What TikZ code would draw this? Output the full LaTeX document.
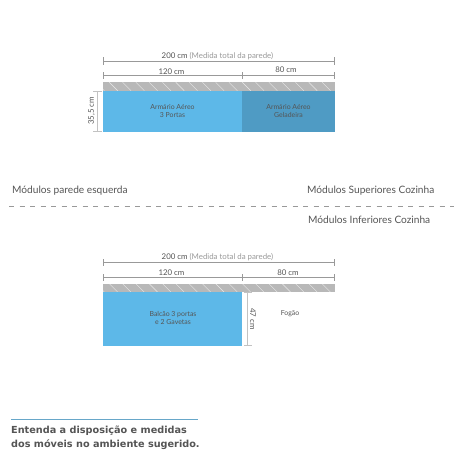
\documentclass[tikz,border=0pt]{standalone}
\usepackage{fontspec}
\setmainfont{Lato}
\newfontfamily\widefont{DejaVu Sans}
\usepackage{tikz}
\definecolor{armblue}{HTML}{5DB8E8}
\definecolor{geldblue}{HTML}{4F9BC4}
\definecolor{wallgrey}{HTML}{B8B8B8}
\definecolor{dimgrey}{HTML}{999999}
\definecolor{txtgrey}{HTML}{555555}
\tikzset{
  dimline/.style={draw=dimgrey,line width=.8pt,|-|,>=|},
  sideline/.style={draw=dimgrey!60,line width=1.1pt,|-|,>=|},
  measure/.style={font=\fontsize{7.85}{8}\selectfont,text=txtgrey,inner sep=0pt},
  boxtext/.style={font=\fontsize{6.9}{8.5}\selectfont,text=txtgrey,inner sep=0pt,align=center},
  heading/.style={font=\fontsize{10.15}{11}\selectfont,text=txtgrey,inner sep=0pt}
}
\begin{document}
\begin{tikzpicture}[x=1pt,y=-1pt]
\useasboundingbox (0,0) rectangle (460,460);
\fill[white] (0,0) rectangle (460,460);
% upper wall
\fill[wallgrey] (102.7,82.3) rectangle (335,90.7);
\begin{scope}
\clip (102.7,82.3) rectangle (335,90.7);
\foreach \x in {96,109.3,...,340}
  \draw[white,opacity=.7,line width=.4pt] (\x,82.3) -- (\x+8.4,90.7);
\end{scope}
\fill[armblue] (102.7,90.7) rectangle (242.3,132);
\fill[geldblue] (242.3,90.7) rectangle (335,132);
\draw[dimline] (102.7,61) -- (335,61);
\draw[dimline] (102.7,75.7) -- (242.3,75.7);
\draw[dimline] (242.3,75.7) -- (335,75.7);
\draw[sideline] (97.3,90.7) -- (97.3,132);
\node[measure] (totalup) at (217.5,56) {200 cm {\color{dimgrey}(Medida total da parede)}};
\node[measure] (leftup) at (171.5,71.5) {120 cm};
\node[measure] (rightup) at (286,70) {80 cm};
\node[measure,rotate=90] (height) at (91.5,111) {35,5 cm};
\node[boxtext] (armario) at (172.5,111) {Armário Aéreo\\3 Portas};
\node[boxtext] (geladeira) at (288.5,111) {Armário Aéreo\\Geladeira};
% titles
\node[heading,anchor=west] (esquerda) at (12,191) {Módulos parede esquerda};
\node[heading,anchor=west] (superior) at (307,191) {Módulos Superiores Cozinha};
\node[heading,anchor=west] (inferior) at (308,220) {Módulos Inferiores Cozinha};
\draw[dimgrey,line width=.7pt,dash pattern=on 5pt off 5.5pt] (9,206.7) -- (454,206.7);
% lower wall
\fill[wallgrey] (102.7,283.7) rectangle (335,292);
\begin{scope}
\clip (102.7,283.7) rectangle (335,292);
\foreach \x in {96,109.3,...,340}
  \draw[white,opacity=.7,line width=.4pt] (\x,283.7) -- (\x+8.3,292);
\end{scope}
\fill[armblue] (102.7,292) rectangle (242.3,346.3);
\draw[dimline] (102.7,262.3) -- (335,262.3);
\draw[dimline] (102.7,277.7) -- (242.3,277.7);
\draw[dimline] (242.3,277.7) -- (335,277.7);
\draw[sideline] (247.7,292) -- (247.7,346.3);
\node[measure] (totaldown) at (217.5,257.5) {200 cm {\color{dimgrey}(Medida total da parede)}};
\node[measure] (leftdown) at (171.5,273) {120 cm};
\node[measure] (rightdown) at (288,273) {80 cm};
\node[measure,rotate=-90] (depth) at (253,319) {47 cm};
\node[boxtext] (balcao) at (173,318) {Balcão 3 portas\\e 2 Gavetas};
\node[boxtext] (fogao) at (290,314) {Fogão};
% note
\draw[armblue!70!gray,line width=.8pt] (11,419.3) -- (198,419.3);
\node[anchor=north west,inner sep=0pt,text=txtgrey,align=left,font=\widefont\bfseries\fontsize{9.7}{14}\selectfont] (nota) at (11,426) {Entenda a disposição e medidas\\dos móveis no ambiente sugerido.};
\end{tikzpicture}
\end{document}
